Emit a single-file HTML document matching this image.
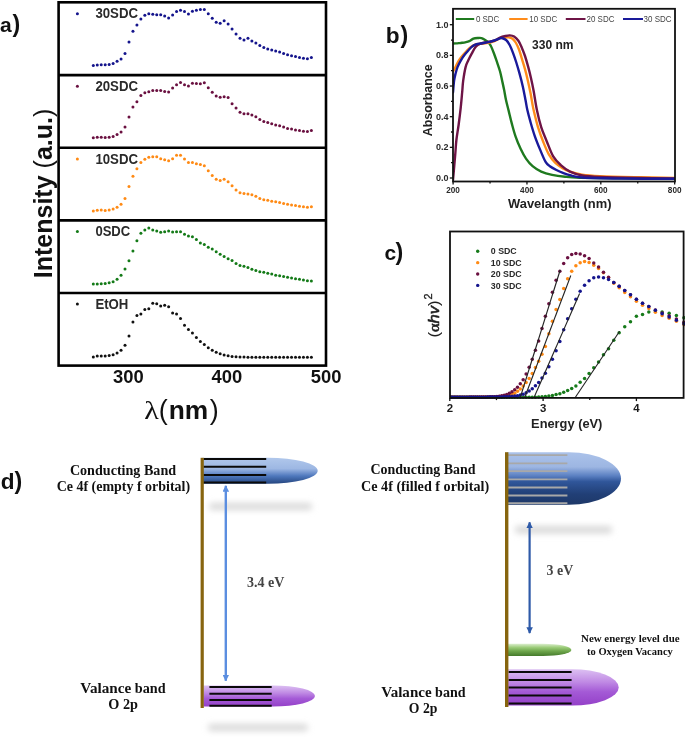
<!DOCTYPE html>
<html><head><meta charset="utf-8"><title>Figure</title>
<style>
html,body{margin:0;padding:0;background:#fff;}
body{width:685px;height:737px;overflow:hidden;font-family:"Liberation Sans", sans-serif;}
svg{display:block;will-change:transform;}
</style></head>
<body>
<svg width="685" height="737" viewBox="0 0 685 737">
<rect width="685" height="737" fill="#fff"/>
<g stroke="#000" stroke-width="2.6" fill="none">
<rect x="58.6" y="2.3" width="267.4" height="363.3"/>
<line x1="58.6" y1="75.1" x2="326" y2="75.1"/>
<line x1="58.6" y1="147.8" x2="326" y2="147.8"/>
<line x1="58.6" y1="220.4" x2="326" y2="220.4"/>
<line x1="58.6" y1="293" x2="326" y2="293"/>
</g>
<g fill="#14148c">
<circle cx="93.3" cy="65.4" r="1.5"/>
<circle cx="97.27" cy="65" r="1.5"/>
<circle cx="101.23" cy="64.8" r="1.5"/>
<circle cx="105.19" cy="64.8" r="1.5"/>
<circle cx="109.16" cy="64.4" r="1.5"/>
<circle cx="113.12" cy="63.4" r="1.5"/>
<circle cx="117.09" cy="61.3" r="1.5"/>
<circle cx="121.05" cy="58.9" r="1.5"/>
<circle cx="125.02" cy="53.5" r="1.5"/>
<circle cx="128.99" cy="42.1" r="1.5"/>
<circle cx="132.95" cy="31.3" r="1.5"/>
<circle cx="136.91" cy="24.9" r="1.5"/>
<circle cx="140.88" cy="19" r="1.5"/>
<circle cx="144.84" cy="15.3" r="1.5"/>
<circle cx="148.81" cy="13.7" r="1.5"/>
<circle cx="152.77" cy="14.3" r="1.5"/>
<circle cx="156.74" cy="14.7" r="1.5"/>
<circle cx="160.7" cy="14.7" r="1.5"/>
<circle cx="164.67" cy="15.9" r="1.5"/>
<circle cx="168.63" cy="18" r="1.5"/>
<circle cx="172.6" cy="15.1" r="1.5"/>
<circle cx="176.56" cy="11.6" r="1.5"/>
<circle cx="180.53" cy="10.2" r="1.5"/>
<circle cx="184.5" cy="11.6" r="1.5"/>
<circle cx="188.46" cy="13.9" r="1.5"/>
<circle cx="192.43" cy="11.2" r="1.5"/>
<circle cx="196.39" cy="10.2" r="1.5"/>
<circle cx="200.35" cy="9.6" r="1.5"/>
<circle cx="204.32" cy="9.4" r="1.5"/>
<circle cx="208.28" cy="13.7" r="1.5"/>
<circle cx="212.25" cy="18.2" r="1.5"/>
<circle cx="216.21" cy="22.3" r="1.5"/>
<circle cx="220.18" cy="23.3" r="1.5"/>
<circle cx="224.14" cy="20.8" r="1.5"/>
<circle cx="228.11" cy="23.9" r="1.5"/>
<circle cx="232.07" cy="29" r="1.5"/>
<circle cx="236.04" cy="34.1" r="1.5"/>
<circle cx="240" cy="38.2" r="1.5"/>
<circle cx="243.97" cy="39.9" r="1.5"/>
<circle cx="247.94" cy="38.2" r="1.5"/>
<circle cx="251.9" cy="40.9" r="1.5"/>
<circle cx="255.87" cy="42.9" r="1.5"/>
<circle cx="259.83" cy="45.4" r="1.5"/>
<circle cx="263.8" cy="47.4" r="1.5"/>
<circle cx="267.76" cy="49" r="1.5"/>
<circle cx="271.72" cy="49.9" r="1.5"/>
<circle cx="275.69" cy="50.9" r="1.5"/>
<circle cx="279.65" cy="52.1" r="1.5"/>
<circle cx="283.62" cy="53.5" r="1.5"/>
<circle cx="287.58" cy="54.8" r="1.5"/>
<circle cx="291.55" cy="55.8" r="1.5"/>
<circle cx="295.51" cy="56.6" r="1.5"/>
<circle cx="299.48" cy="57.4" r="1.5"/>
<circle cx="303.44" cy="58.2" r="1.5"/>
<circle cx="307.41" cy="58.7" r="1.5"/>
<circle cx="311.38" cy="57.6" r="1.5"/>
<circle cx="77.4" cy="13.7" r="1.5"/>
</g>
<text x="95.4" y="18.4" font-size="14" font-weight="bold" font-family='"Liberation Sans", sans-serif' fill="#2a2a2a" textLength="42.6" lengthAdjust="spacingAndGlyphs" >30SDC</text>
<g fill="#6a1040">
<circle cx="93.3" cy="137.8" r="1.5"/>
<circle cx="97.27" cy="137.3" r="1.5"/>
<circle cx="101.23" cy="137.3" r="1.5"/>
<circle cx="105.19" cy="137.5" r="1.5"/>
<circle cx="109.16" cy="137.3" r="1.5"/>
<circle cx="113.12" cy="136.5" r="1.5"/>
<circle cx="117.09" cy="134.5" r="1.5"/>
<circle cx="121.05" cy="132" r="1.5"/>
<circle cx="125.02" cy="127.1" r="1.5"/>
<circle cx="128.99" cy="117.1" r="1.5"/>
<circle cx="132.95" cy="107.1" r="1.5"/>
<circle cx="136.91" cy="101.8" r="1.5"/>
<circle cx="140.88" cy="95.5" r="1.5"/>
<circle cx="144.84" cy="92.8" r="1.5"/>
<circle cx="148.81" cy="91.8" r="1.5"/>
<circle cx="152.77" cy="90.4" r="1.5"/>
<circle cx="156.74" cy="90.4" r="1.5"/>
<circle cx="160.7" cy="90.6" r="1.5"/>
<circle cx="164.67" cy="91.4" r="1.5"/>
<circle cx="168.63" cy="92" r="1.5"/>
<circle cx="172.6" cy="87.9" r="1.5"/>
<circle cx="176.56" cy="84.7" r="1.5"/>
<circle cx="180.53" cy="82.6" r="1.5"/>
<circle cx="184.5" cy="84.7" r="1.5"/>
<circle cx="188.46" cy="85.9" r="1.5"/>
<circle cx="192.43" cy="83.3" r="1.5"/>
<circle cx="196.39" cy="83.4" r="1.5"/>
<circle cx="200.35" cy="83.8" r="1.5"/>
<circle cx="204.32" cy="82.8" r="1.5"/>
<circle cx="208.28" cy="87.7" r="1.5"/>
<circle cx="212.25" cy="92.2" r="1.5"/>
<circle cx="216.21" cy="96.1" r="1.5"/>
<circle cx="220.18" cy="97.3" r="1.5"/>
<circle cx="224.14" cy="96.7" r="1.5"/>
<circle cx="228.11" cy="97.5" r="1.5"/>
<circle cx="232.07" cy="103.7" r="1.5"/>
<circle cx="236.04" cy="108.1" r="1.5"/>
<circle cx="240" cy="112.2" r="1.5"/>
<circle cx="243.97" cy="113.7" r="1.5"/>
<circle cx="247.94" cy="113.7" r="1.5"/>
<circle cx="251.9" cy="115.1" r="1.5"/>
<circle cx="255.87" cy="116.7" r="1.5"/>
<circle cx="259.83" cy="119.6" r="1.5"/>
<circle cx="263.8" cy="121.4" r="1.5"/>
<circle cx="267.76" cy="122.4" r="1.5"/>
<circle cx="271.72" cy="123.7" r="1.5"/>
<circle cx="275.69" cy="124.9" r="1.5"/>
<circle cx="279.65" cy="125.7" r="1.5"/>
<circle cx="283.62" cy="126.9" r="1.5"/>
<circle cx="287.58" cy="128.4" r="1.5"/>
<circle cx="291.55" cy="129" r="1.5"/>
<circle cx="295.51" cy="130" r="1.5"/>
<circle cx="299.48" cy="130.6" r="1.5"/>
<circle cx="303.44" cy="131.2" r="1.5"/>
<circle cx="307.41" cy="131.6" r="1.5"/>
<circle cx="311.38" cy="130.6" r="1.5"/>
<circle cx="77.4" cy="86.3" r="1.5"/>
</g>
<text x="95.4" y="91" font-size="14" font-weight="bold" font-family='"Liberation Sans", sans-serif' fill="#2a2a2a" textLength="42.6" lengthAdjust="spacingAndGlyphs" >20SDC</text>
<g fill="#ff8a14">
<circle cx="93.3" cy="211" r="1.5"/>
<circle cx="97.27" cy="210.3" r="1.5"/>
<circle cx="101.23" cy="210.1" r="1.5"/>
<circle cx="105.19" cy="210.6" r="1.5"/>
<circle cx="109.16" cy="210.1" r="1.5"/>
<circle cx="113.12" cy="209.1" r="1.5"/>
<circle cx="117.09" cy="207.3" r="1.5"/>
<circle cx="121.05" cy="204.2" r="1.5"/>
<circle cx="125.02" cy="198.5" r="1.5"/>
<circle cx="128.99" cy="186.5" r="1.5"/>
<circle cx="132.95" cy="176.2" r="1.5"/>
<circle cx="136.91" cy="168.7" r="1.5"/>
<circle cx="140.88" cy="162.4" r="1.5"/>
<circle cx="144.84" cy="159.3" r="1.5"/>
<circle cx="148.81" cy="157.3" r="1.5"/>
<circle cx="152.77" cy="156.8" r="1.5"/>
<circle cx="156.74" cy="156.8" r="1.5"/>
<circle cx="160.7" cy="158.7" r="1.5"/>
<circle cx="164.67" cy="159.7" r="1.5"/>
<circle cx="168.63" cy="160.7" r="1.5"/>
<circle cx="172.6" cy="158.7" r="1.5"/>
<circle cx="176.56" cy="155.2" r="1.5"/>
<circle cx="180.53" cy="155.2" r="1.5"/>
<circle cx="184.5" cy="158.9" r="1.5"/>
<circle cx="188.46" cy="162.4" r="1.5"/>
<circle cx="192.43" cy="162.6" r="1.5"/>
<circle cx="196.39" cy="163.7" r="1.5"/>
<circle cx="200.35" cy="164.4" r="1.5"/>
<circle cx="204.32" cy="165.8" r="1.5"/>
<circle cx="208.28" cy="170.7" r="1.5"/>
<circle cx="212.25" cy="175.4" r="1.5"/>
<circle cx="216.21" cy="179.3" r="1.5"/>
<circle cx="220.18" cy="180.5" r="1.5"/>
<circle cx="224.14" cy="179.3" r="1.5"/>
<circle cx="228.11" cy="181.8" r="1.5"/>
<circle cx="232.07" cy="185.8" r="1.5"/>
<circle cx="236.04" cy="189.9" r="1.5"/>
<circle cx="240" cy="192.8" r="1.5"/>
<circle cx="243.97" cy="193.6" r="1.5"/>
<circle cx="247.94" cy="194" r="1.5"/>
<circle cx="251.9" cy="194.8" r="1.5"/>
<circle cx="255.87" cy="196.3" r="1.5"/>
<circle cx="259.83" cy="198.5" r="1.5"/>
<circle cx="263.8" cy="199.7" r="1.5"/>
<circle cx="267.76" cy="200.3" r="1.5"/>
<circle cx="271.72" cy="201.2" r="1.5"/>
<circle cx="275.69" cy="201.8" r="1.5"/>
<circle cx="279.65" cy="202.6" r="1.5"/>
<circle cx="283.62" cy="203.4" r="1.5"/>
<circle cx="287.58" cy="204.2" r="1.5"/>
<circle cx="291.55" cy="205" r="1.5"/>
<circle cx="295.51" cy="205.6" r="1.5"/>
<circle cx="299.48" cy="206.3" r="1.5"/>
<circle cx="303.44" cy="206.7" r="1.5"/>
<circle cx="307.41" cy="207.3" r="1.5"/>
<circle cx="311.38" cy="206.7" r="1.5"/>
<circle cx="77.4" cy="158.9" r="1.5"/>
</g>
<text x="95.4" y="163.5" font-size="14" font-weight="bold" font-family='"Liberation Sans", sans-serif' fill="#2a2a2a" textLength="42.6" lengthAdjust="spacingAndGlyphs" >10SDC</text>
<g fill="#137a17">
<circle cx="93.3" cy="284" r="1.5"/>
<circle cx="97.27" cy="284" r="1.5"/>
<circle cx="101.23" cy="283.8" r="1.5"/>
<circle cx="105.19" cy="283.6" r="1.5"/>
<circle cx="109.16" cy="282.8" r="1.5"/>
<circle cx="113.12" cy="281.7" r="1.5"/>
<circle cx="117.09" cy="279.3" r="1.5"/>
<circle cx="121.05" cy="275.2" r="1.5"/>
<circle cx="125.02" cy="268.9" r="1.5"/>
<circle cx="128.99" cy="260.7" r="1.5"/>
<circle cx="132.95" cy="251.1" r="1.5"/>
<circle cx="136.91" cy="240.7" r="1.5"/>
<circle cx="140.88" cy="233.3" r="1.5"/>
<circle cx="144.84" cy="229.9" r="1.5"/>
<circle cx="148.81" cy="228" r="1.5"/>
<circle cx="152.77" cy="230.1" r="1.5"/>
<circle cx="156.74" cy="230.9" r="1.5"/>
<circle cx="160.7" cy="232.3" r="1.5"/>
<circle cx="164.67" cy="231.7" r="1.5"/>
<circle cx="168.63" cy="231.1" r="1.5"/>
<circle cx="172.6" cy="231.9" r="1.5"/>
<circle cx="176.56" cy="231.7" r="1.5"/>
<circle cx="180.53" cy="231.7" r="1.5"/>
<circle cx="184.5" cy="234.2" r="1.5"/>
<circle cx="188.46" cy="236" r="1.5"/>
<circle cx="192.43" cy="236.7" r="1.5"/>
<circle cx="196.39" cy="239.5" r="1.5"/>
<circle cx="200.35" cy="242.9" r="1.5"/>
<circle cx="204.32" cy="244.4" r="1.5"/>
<circle cx="208.28" cy="247.2" r="1.5"/>
<circle cx="212.25" cy="249.1" r="1.5"/>
<circle cx="216.21" cy="251.7" r="1.5"/>
<circle cx="220.18" cy="254.2" r="1.5"/>
<circle cx="224.14" cy="256.4" r="1.5"/>
<circle cx="228.11" cy="258.7" r="1.5"/>
<circle cx="232.07" cy="260.5" r="1.5"/>
<circle cx="236.04" cy="263.4" r="1.5"/>
<circle cx="240" cy="265.6" r="1.5"/>
<circle cx="243.97" cy="266.2" r="1.5"/>
<circle cx="247.94" cy="267.4" r="1.5"/>
<circle cx="251.9" cy="269.3" r="1.5"/>
<circle cx="255.87" cy="270.5" r="1.5"/>
<circle cx="259.83" cy="271.7" r="1.5"/>
<circle cx="263.8" cy="272.3" r="1.5"/>
<circle cx="267.76" cy="273.2" r="1.5"/>
<circle cx="271.72" cy="274" r="1.5"/>
<circle cx="275.69" cy="275.2" r="1.5"/>
<circle cx="279.65" cy="275.8" r="1.5"/>
<circle cx="283.62" cy="276.6" r="1.5"/>
<circle cx="287.58" cy="277.2" r="1.5"/>
<circle cx="291.55" cy="278.1" r="1.5"/>
<circle cx="295.51" cy="278.7" r="1.5"/>
<circle cx="299.48" cy="279.3" r="1.5"/>
<circle cx="303.44" cy="279.9" r="1.5"/>
<circle cx="307.41" cy="280.7" r="1.5"/>
<circle cx="311.38" cy="281.1" r="1.5"/>
<circle cx="77.4" cy="231.5" r="1.5"/>
</g>
<text x="95.4" y="236.2" font-size="14" font-weight="bold" font-family='"Liberation Sans", sans-serif' fill="#2a2a2a" textLength="34.8" lengthAdjust="spacingAndGlyphs" >0SDC</text>
<g fill="#111111">
<circle cx="93.3" cy="357" r="1.5"/>
<circle cx="97.27" cy="356" r="1.5"/>
<circle cx="101.23" cy="356" r="1.5"/>
<circle cx="105.19" cy="356" r="1.5"/>
<circle cx="109.16" cy="355.6" r="1.5"/>
<circle cx="113.12" cy="354.8" r="1.5"/>
<circle cx="117.09" cy="352.9" r="1.5"/>
<circle cx="121.05" cy="350.3" r="1.5"/>
<circle cx="125.02" cy="345.2" r="1.5"/>
<circle cx="128.99" cy="336" r="1.5"/>
<circle cx="132.95" cy="322.1" r="1.5"/>
<circle cx="136.91" cy="315.5" r="1.5"/>
<circle cx="140.88" cy="313.9" r="1.5"/>
<circle cx="144.84" cy="309.4" r="1.5"/>
<circle cx="148.81" cy="308.8" r="1.5"/>
<circle cx="152.77" cy="303.3" r="1.5"/>
<circle cx="156.74" cy="303.7" r="1.5"/>
<circle cx="160.7" cy="306" r="1.5"/>
<circle cx="164.67" cy="305.3" r="1.5"/>
<circle cx="168.63" cy="306.8" r="1.5"/>
<circle cx="172.6" cy="313.1" r="1.5"/>
<circle cx="176.56" cy="314.1" r="1.5"/>
<circle cx="180.53" cy="318.6" r="1.5"/>
<circle cx="184.5" cy="325.3" r="1.5"/>
<circle cx="188.46" cy="329.4" r="1.5"/>
<circle cx="192.43" cy="333" r="1.5"/>
<circle cx="196.39" cy="337.4" r="1.5"/>
<circle cx="200.35" cy="341.5" r="1.5"/>
<circle cx="204.32" cy="344.5" r="1.5"/>
<circle cx="208.28" cy="347.8" r="1.5"/>
<circle cx="212.25" cy="350.3" r="1.5"/>
<circle cx="216.21" cy="352.3" r="1.5"/>
<circle cx="220.18" cy="353.7" r="1.5"/>
<circle cx="224.14" cy="355" r="1.5"/>
<circle cx="228.11" cy="355.8" r="1.5"/>
<circle cx="232.07" cy="356.4" r="1.5"/>
<circle cx="236.04" cy="356.8" r="1.5"/>
<circle cx="240" cy="357" r="1.5"/>
<circle cx="243.97" cy="357.1" r="1.5"/>
<circle cx="247.94" cy="357.2" r="1.5"/>
<circle cx="251.9" cy="357.3" r="1.5"/>
<circle cx="255.87" cy="357.3" r="1.5"/>
<circle cx="259.83" cy="357.3" r="1.5"/>
<circle cx="263.8" cy="357.3" r="1.5"/>
<circle cx="267.76" cy="357.3" r="1.5"/>
<circle cx="271.72" cy="357.3" r="1.5"/>
<circle cx="275.69" cy="357.3" r="1.5"/>
<circle cx="279.65" cy="357.3" r="1.5"/>
<circle cx="283.62" cy="357.3" r="1.5"/>
<circle cx="287.58" cy="357.3" r="1.5"/>
<circle cx="291.55" cy="357.3" r="1.5"/>
<circle cx="295.51" cy="357.3" r="1.5"/>
<circle cx="299.48" cy="357.3" r="1.5"/>
<circle cx="303.44" cy="357.3" r="1.5"/>
<circle cx="307.41" cy="357.3" r="1.5"/>
<circle cx="311.38" cy="357.3" r="1.5"/>
<circle cx="77.4" cy="303.9" r="1.5"/>
</g>
<text x="95.4" y="308.7" font-size="14" font-weight="bold" font-family='"Liberation Sans", sans-serif' fill="#2a2a2a" textLength="33" lengthAdjust="spacingAndGlyphs" >EtOH</text>
<text x="128.3" y="382.8" font-size="18.4" font-weight="bold" font-family='"Liberation Sans", sans-serif' fill="#111" text-anchor="middle" >300</text>
<text x="226.9" y="382.8" font-size="18.4" font-weight="bold" font-family='"Liberation Sans", sans-serif' fill="#111" text-anchor="middle" >400</text>
<text x="326.2" y="382.8" font-size="18.4" font-weight="bold" font-family='"Liberation Sans", sans-serif' fill="#111" text-anchor="middle" >500</text>
<text x="144.2" y="418.6" font-size="26" font-weight="normal" font-family='"Liberation Serif", serif' fill="#111" textLength="14.6" lengthAdjust="spacingAndGlyphs" >&#955;</text>
<text x="158.8" y="418.6" font-size="27" font-weight="normal" font-family='"Liberation Sans", sans-serif' fill="#111" >(</text>
<text x="168.7" y="418.6" font-size="25" font-weight="bold" font-family='"Liberation Sans", sans-serif' fill="#111" textLength="39.5" lengthAdjust="spacingAndGlyphs" >nm</text>
<text x="209.8" y="418.6" font-size="27" font-weight="normal" font-family='"Liberation Sans", sans-serif' fill="#111" >)</text>
<text x="0" y="0" font-size="25" font-weight="bold" font-family='"Liberation Sans", sans-serif' fill="#111" textLength="169.5" lengthAdjust="spacingAndGlyphs" transform="translate(52.2,278.2) rotate(-90)" >Intensity <tspan font-weight="normal">(</tspan>a.u.<tspan font-weight="normal">)</tspan></text>
<text x="0.1" y="31.9" font-size="21" font-weight="bold" font-family='"Liberation Sans", sans-serif' fill="#111" >a</text>
<text x="12.4" y="32.2" font-size="23.2" font-weight="bold" font-family='"Liberation Sans", sans-serif' fill="#111" >)</text>
<defs><clipPath id="cb"><rect x="453" y="8.8" width="222" height="172.7"/></clipPath></defs>
<g clip-path="url(#cb)" fill="none" stroke-width="2.4" stroke-linejoin="round" stroke-linecap="round">
<path d="M452,43.6 C452.67,43.57 454.78,43.48 456,43.4 C457.22,43.32 458.3,43.2 459.3,43.1 C460.3,43 461.02,42.93 462,42.8 C462.98,42.67 463.98,42.57 465.2,42.3 C466.42,42.03 467.93,41.8 469.3,41.2 C470.67,40.6 471.95,39.23 473.4,38.7 C474.85,38.17 476.65,38.1 478,38 C479.35,37.9 480.33,37.77 481.5,38.1 C482.67,38.43 483.83,39.27 485,40 C486.17,40.73 487.52,41.5 488.5,42.5 C489.48,43.5 490.02,44.25 490.9,46 C491.78,47.75 492.83,50.47 493.8,53 C494.77,55.53 495.67,58.17 496.7,61.2 C497.73,64.23 499.08,67.9 500,71.2 C500.92,74.5 501.48,77.73 502.2,81 C502.92,84.27 503.67,87.63 504.3,90.8 C504.93,93.97 505.27,96.65 506,100 C506.73,103.35 507.72,106.92 508.7,110.9 C509.68,114.88 510.73,119.57 511.9,123.9 C513.07,128.23 514.25,132.75 515.7,136.9 C517.15,141.05 518.88,145.18 520.6,148.8 C522.32,152.42 524,155.7 526,158.6 C528,161.5 530.07,164.03 532.6,166.2 C535.13,168.37 537.95,170.15 541.2,171.6 C544.45,173.05 548.12,174.03 552.1,174.9 C556.08,175.77 560.45,176.33 565.1,176.8 C569.75,177.27 570.85,177.45 580,177.7 C589.15,177.95 603.83,178.15 620,178.3 C636.17,178.45 667.5,178.55 677,178.6" stroke="#1f7a1f"/>
<path d="M453,71.5 C453.5,70.58 455.02,67.87 456,66 C456.98,64.13 457.52,62.37 458.9,60.3 C460.28,58.23 462.45,55.72 464.3,53.6 C466.15,51.48 468.1,49.12 470,47.6 C471.9,46.08 473.97,45.12 475.7,44.5 C477.43,43.88 478.85,44.1 480.4,43.9 C481.95,43.7 483.45,43.52 485,43.3 C486.55,43.08 488.13,42.95 489.7,42.6 C491.27,42.25 492.68,41.95 494.4,41.2 C496.12,40.45 498.35,38.7 500,38.1 C501.65,37.5 502.85,37.72 504.3,37.6 C505.75,37.48 507.33,37.22 508.7,37.4 C510.07,37.58 511.33,37.85 512.5,38.7 C513.67,39.55 514.62,40.7 515.7,42.5 C516.78,44.3 518,46.88 519,49.5 C520,52.12 520.7,54.93 521.7,58.2 C522.7,61.47 524,65.48 525,69.1 C526,72.72 526.77,75.83 527.7,79.9 C528.63,83.97 529.78,89.32 530.6,93.5 C531.42,97.68 532,101.83 532.6,105 C533.2,108.17 533.3,108.82 534.2,112.5 C535.1,116.18 536.47,122.13 538,127.1 C539.53,132.07 541.6,137.77 543.4,142.3 C545.2,146.83 546.8,150.87 548.8,154.3 C550.8,157.73 553.05,160.55 555.4,162.9 C557.75,165.25 560.47,166.95 562.9,168.4 C565.33,169.85 566.82,170.57 570,171.6 C573.18,172.63 577,173.85 582,174.6 C587,175.35 590.33,175.67 600,176.1 C609.67,176.53 627.17,176.9 640,177.2 C652.83,177.5 670.83,177.78 677,177.9" stroke="#ff8c1a"/>
<path d="M453,180 C453.37,175.83 454.63,161.67 455.2,155 C455.77,148.33 455.83,145 456.4,140 C456.97,135 457.88,130.37 458.6,125 C459.32,119.63 460.1,113.3 460.7,107.8 C461.3,102.3 461.78,96.52 462.2,92 C462.62,87.48 462.63,84.85 463.2,80.7 C463.77,76.55 464.75,70.5 465.6,67.1 C466.45,63.7 467.28,62.55 468.3,60.3 C469.32,58.05 470.45,55.85 471.7,53.6 C472.95,51.35 474.35,48.45 475.8,46.8 C477.25,45.15 478.87,44.42 480.4,43.7 C481.93,42.98 483.25,42.88 485,42.5 C486.75,42.12 488.95,41.88 490.9,41.4 C492.85,40.92 495.18,40.23 496.7,39.6 C498.22,38.97 498.55,38.2 500,37.6 C501.45,37 503.77,36.37 505.4,36 C507.03,35.63 508.35,35.32 509.8,35.4 C511.25,35.48 512.67,35.6 514.1,36.5 C515.53,37.4 517.13,38.98 518.4,40.8 C519.67,42.62 520.6,44.87 521.7,47.4 C522.8,49.93 523.92,52.75 525,56 C526.08,59.25 527.22,63.28 528.2,66.9 C529.18,70.52 530,73.72 530.9,77.7 C531.8,81.68 532.6,85.42 533.6,90.8 C534.6,96.18 535.63,103.95 536.9,110 C538.17,116.05 539.57,121.9 541.2,127.1 C542.83,132.3 544.7,136.32 546.7,141.2 C548.7,146.08 550.85,152.42 553.2,156.4 C555.55,160.38 558,162.57 560.8,165.1 C563.6,167.63 566.42,169.87 570,171.6 C573.58,173.33 577.3,174.6 582.3,175.5 C587.3,176.4 590.38,176.58 600,177 C609.62,177.42 627.17,177.77 640,178 C652.83,178.23 670.83,178.33 677,178.4" stroke="#6e1446"/>
<path d="M453,92.5 C453.18,90.53 453.68,83.8 454.1,80.7 C454.52,77.6 454.93,76.17 455.5,73.9 C456.07,71.63 456.6,69.37 457.5,67.1 C458.4,64.83 459.55,62.55 460.9,60.3 C462.25,58.05 463.8,55.85 465.6,53.6 C467.4,51.35 469.88,48.38 471.7,46.8 C473.52,45.22 475.05,44.65 476.5,44.1 C477.95,43.55 478.98,43.72 480.4,43.5 C481.82,43.28 483.45,43.07 485,42.8 C486.55,42.53 488.13,42.28 489.7,41.9 C491.27,41.52 492.68,41.1 494.4,40.5 C496.12,39.9 498.52,38.63 500,38.3 C501.48,37.97 502.22,38.17 503.3,38.5 C504.38,38.83 505.42,39.18 506.5,40.3 C507.58,41.42 508.72,43.12 509.8,45.2 C510.88,47.28 511.92,49.92 513,52.8 C514.08,55.68 515.22,59.07 516.3,62.5 C517.38,65.93 518.42,69.42 519.5,73.4 C520.58,77.38 521.8,81.97 522.8,86.4 C523.8,90.83 524.75,96.1 525.5,100 C526.25,103.9 526.48,106.18 527.3,109.8 C528.12,113.42 529.17,117.37 530.4,121.7 C531.63,126.03 533.07,131.1 534.7,135.8 C536.33,140.5 538.38,145.55 540.2,149.9 C542.02,154.25 543.98,159.18 545.6,161.9 C547.22,164.62 548.1,164.85 549.9,166.2 C551.7,167.55 554.23,168.88 556.4,170 C558.57,171.12 560.63,172.03 562.9,172.9 C565.17,173.77 566.77,174.43 570,175.2 C573.23,175.97 573.97,176.95 582.3,177.5 C590.63,178.05 604.22,178.28 620,178.5 C635.78,178.72 667.5,178.75 677,178.8" stroke="#1a1a9a"/>
</g>
<rect x="453" y="8.8" width="222" height="172.7" fill="none" stroke="#111" stroke-width="1.8"/>
<g stroke="#111" stroke-width="1.3">
<line x1="449.8" y1="178" x2="453" y2="178"/>
<line x1="451" y1="162.67" x2="453" y2="162.67"/>
<line x1="449.8" y1="147.34" x2="453" y2="147.34"/>
<line x1="451" y1="132.01" x2="453" y2="132.01"/>
<line x1="449.8" y1="116.68" x2="453" y2="116.68"/>
<line x1="451" y1="101.35" x2="453" y2="101.35"/>
<line x1="449.8" y1="86.02" x2="453" y2="86.02"/>
<line x1="451" y1="70.69" x2="453" y2="70.69"/>
<line x1="449.8" y1="55.36" x2="453" y2="55.36"/>
<line x1="451" y1="40.03" x2="453" y2="40.03"/>
<line x1="449.8" y1="24.7" x2="453" y2="24.7"/>
<line x1="453.1" y1="181.5" x2="453.1" y2="184.5"/>
<line x1="490.03" y1="181.5" x2="490.03" y2="183.5"/>
<line x1="526.96" y1="181.5" x2="526.96" y2="184.5"/>
<line x1="563.89" y1="181.5" x2="563.89" y2="183.5"/>
<line x1="600.82" y1="181.5" x2="600.82" y2="184.5"/>
<line x1="637.75" y1="181.5" x2="637.75" y2="183.5"/>
<line x1="674.68" y1="181.5" x2="674.68" y2="184.5"/>
</g>
<text x="448.6" y="27.7" font-size="9" font-weight="bold" font-family='"Liberation Sans", sans-serif' fill="#2a2a2a" text-anchor="end" >1.0</text>
<text x="448.6" y="58.36" font-size="9" font-weight="bold" font-family='"Liberation Sans", sans-serif' fill="#2a2a2a" text-anchor="end" >0.8</text>
<text x="448.6" y="89.02" font-size="9" font-weight="bold" font-family='"Liberation Sans", sans-serif' fill="#2a2a2a" text-anchor="end" >0.6</text>
<text x="448.6" y="119.68" font-size="9" font-weight="bold" font-family='"Liberation Sans", sans-serif' fill="#2a2a2a" text-anchor="end" >0.4</text>
<text x="448.6" y="150.34" font-size="9" font-weight="bold" font-family='"Liberation Sans", sans-serif' fill="#2a2a2a" text-anchor="end" >0.2</text>
<text x="448.6" y="181" font-size="9" font-weight="bold" font-family='"Liberation Sans", sans-serif' fill="#2a2a2a" text-anchor="end" >0.0</text>
<text x="453.1" y="192.6" font-size="8.2" font-weight="bold" font-family='"Liberation Sans", sans-serif' fill="#2a2a2a" text-anchor="middle" >200</text>
<text x="526.96" y="192.6" font-size="8.2" font-weight="bold" font-family='"Liberation Sans", sans-serif' fill="#2a2a2a" text-anchor="middle" >400</text>
<text x="600.82" y="192.6" font-size="8.2" font-weight="bold" font-family='"Liberation Sans", sans-serif' fill="#2a2a2a" text-anchor="middle" >600</text>
<text x="674.68" y="192.6" font-size="8.2" font-weight="bold" font-family='"Liberation Sans", sans-serif' fill="#2a2a2a" text-anchor="middle" >800</text>
<text x="0" y="0" font-size="12.6" font-weight="bold" font-family='"Liberation Sans", sans-serif' fill="#222" textLength="72" lengthAdjust="spacingAndGlyphs" transform="translate(432.2,136.3) rotate(-90)" >Absorbance</text>
<text x="508" y="207.5" font-size="12.7" font-weight="bold" font-family='"Liberation Sans", sans-serif' fill="#222" textLength="103.5" lengthAdjust="spacingAndGlyphs" >Wavelangth (nm)</text>
<text x="532" y="48.5" font-size="12" font-weight="bold" font-family='"Liberation Sans", sans-serif' fill="#222" textLength="41.5" lengthAdjust="spacingAndGlyphs" >330 nm</text>
<line x1="455.8" y1="19" x2="474.2" y2="19" stroke="#1f7a1f" stroke-width="2"/>
<text x="475.9" y="22.2" font-size="8.3" font-weight="normal" font-family='"Liberation Sans", sans-serif' fill="#444" textLength="23.4" lengthAdjust="spacingAndGlyphs" >0 SDC</text>
<line x1="509.2" y1="19" x2="527.6" y2="19" stroke="#ff8c1a" stroke-width="2"/>
<text x="529.3" y="22.2" font-size="8.3" font-weight="normal" font-family='"Liberation Sans", sans-serif' fill="#444" textLength="27.9" lengthAdjust="spacingAndGlyphs" >10 SDC</text>
<line x1="565.8" y1="19" x2="585.5" y2="19" stroke="#6e1446" stroke-width="2"/>
<text x="586.5" y="22.2" font-size="8.3" font-weight="normal" font-family='"Liberation Sans", sans-serif' fill="#444" textLength="27.9" lengthAdjust="spacingAndGlyphs" >20 SDC</text>
<line x1="623" y1="19" x2="643" y2="19" stroke="#1a1a9a" stroke-width="2"/>
<text x="643.6" y="22.2" font-size="8.3" font-weight="normal" font-family='"Liberation Sans", sans-serif' fill="#444" textLength="27.9" lengthAdjust="spacingAndGlyphs" >30 SDC</text>
<text x="385.7" y="43" font-size="22.6" font-weight="bold" font-family='"Liberation Sans", sans-serif' fill="#111" >b</text>
<text x="400.5" y="43.1" font-size="23.2" font-weight="bold" font-family='"Liberation Sans", sans-serif' fill="#111" >)</text>
<defs><clipPath id="cc"><rect x="450" y="231.5" width="235" height="168.4"/></clipPath></defs>
<g fill="#167a1a" clip-path="url(#cc)">
<circle cx="683.9" cy="317.77" r="1.75"/>
<circle cx="676.39" cy="315.47" r="1.75"/>
<circle cx="669.14" cy="313.26" r="1.75"/>
<circle cx="662.14" cy="311.92" r="1.75"/>
<circle cx="655.38" cy="311" r="1.75"/>
<circle cx="648.84" cy="311.9" r="1.75"/>
<circle cx="642.52" cy="314.39" r="1.75"/>
<circle cx="636.4" cy="316.22" r="1.75"/>
<circle cx="630.48" cy="321.69" r="1.75"/>
<circle cx="624.74" cy="326.75" r="1.75"/>
<circle cx="619.18" cy="332.7" r="1.75"/>
<circle cx="613.78" cy="340.23" r="1.75"/>
<circle cx="608.55" cy="348.85" r="1.75"/>
<circle cx="603.47" cy="354.84" r="1.75"/>
<circle cx="598.54" cy="361.88" r="1.75"/>
<circle cx="593.75" cy="367.81" r="1.75"/>
<circle cx="589.09" cy="373.44" r="1.75"/>
<circle cx="584.57" cy="378.43" r="1.75"/>
<circle cx="580.16" cy="382.33" r="1.75"/>
<circle cx="575.88" cy="385.98" r="1.75"/>
<circle cx="571.71" cy="388.47" r="1.75"/>
<circle cx="567.65" cy="390.52" r="1.75"/>
<circle cx="563.7" cy="392.26" r="1.75"/>
<circle cx="559.85" cy="393.66" r="1.75"/>
<circle cx="556.09" cy="394.48" r="1.75"/>
<circle cx="552.43" cy="395.38" r="1.75"/>
<circle cx="548.86" cy="396.04" r="1.75"/>
<circle cx="545.38" cy="396.49" r="1.75"/>
<circle cx="541.98" cy="396.86" r="1.75"/>
<circle cx="538.66" cy="397.06" r="1.75"/>
<circle cx="535.42" cy="397.15" r="1.75"/>
<circle cx="532.25" cy="397.18" r="1.75"/>
<circle cx="529.16" cy="397.19" r="1.75"/>
<circle cx="526.14" cy="397.2" r="1.75"/>
<circle cx="523.18" cy="397.21" r="1.75"/>
<circle cx="520.29" cy="397.21" r="1.75"/>
<circle cx="517.47" cy="397.22" r="1.75"/>
<circle cx="514.7" cy="397.23" r="1.75"/>
<circle cx="512" cy="397.23" r="1.75"/>
<circle cx="509.35" cy="397.24" r="1.75"/>
<circle cx="506.76" cy="397.24" r="1.75"/>
<circle cx="504.23" cy="397.25" r="1.75"/>
<circle cx="501.74" cy="397.25" r="1.75"/>
<circle cx="499.31" cy="397.26" r="1.75"/>
<circle cx="496.92" cy="397.26" r="1.75"/>
<circle cx="494.58" cy="397.26" r="1.75"/>
<circle cx="492.29" cy="397.26" r="1.75"/>
<circle cx="490.05" cy="397.27" r="1.75"/>
<circle cx="487.84" cy="397.27" r="1.75"/>
<circle cx="485.68" cy="397.27" r="1.75"/>
<circle cx="483.57" cy="397.27" r="1.75"/>
<circle cx="481.49" cy="397.27" r="1.75"/>
<circle cx="479.45" cy="397.27" r="1.75"/>
<circle cx="477.44" cy="397.28" r="1.75"/>
<circle cx="475.48" cy="397.28" r="1.75"/>
<circle cx="473.55" cy="397.28" r="1.75"/>
<circle cx="471.65" cy="397.28" r="1.75"/>
<circle cx="469.79" cy="397.28" r="1.75"/>
<circle cx="467.96" cy="397.28" r="1.75"/>
<circle cx="466.17" cy="397.28" r="1.75"/>
<circle cx="464.4" cy="397.28" r="1.75"/>
<circle cx="462.67" cy="397.29" r="1.75"/>
<circle cx="460.96" cy="397.29" r="1.75"/>
<circle cx="459.29" cy="397.29" r="1.75"/>
<circle cx="457.64" cy="397.29" r="1.75"/>
<circle cx="456.02" cy="397.29" r="1.75"/>
<circle cx="454.43" cy="397.29" r="1.75"/>
<circle cx="452.86" cy="397.3" r="1.75"/>
<circle cx="451.32" cy="397.3" r="1.75"/>
<circle cx="449.8" cy="397.3" r="1.75"/>
</g>
<g fill="#ff8a14" clip-path="url(#cc)">
<circle cx="683.9" cy="324.46" r="1.75"/>
<circle cx="676.39" cy="321.32" r="1.75"/>
<circle cx="669.14" cy="318.17" r="1.75"/>
<circle cx="662.14" cy="315.4" r="1.75"/>
<circle cx="655.38" cy="312.18" r="1.75"/>
<circle cx="648.84" cy="308.6" r="1.75"/>
<circle cx="642.52" cy="305.13" r="1.75"/>
<circle cx="636.4" cy="301.26" r="1.75"/>
<circle cx="630.48" cy="296.75" r="1.75"/>
<circle cx="624.74" cy="292.39" r="1.75"/>
<circle cx="619.18" cy="287.73" r="1.75"/>
<circle cx="613.78" cy="283.18" r="1.75"/>
<circle cx="608.55" cy="277.65" r="1.75"/>
<circle cx="603.47" cy="272.76" r="1.75"/>
<circle cx="598.54" cy="268.48" r="1.75"/>
<circle cx="593.75" cy="265.2" r="1.75"/>
<circle cx="589.09" cy="262.42" r="1.75"/>
<circle cx="584.57" cy="261.61" r="1.75"/>
<circle cx="580.16" cy="262.82" r="1.75"/>
<circle cx="575.88" cy="265.72" r="1.75"/>
<circle cx="571.71" cy="271.18" r="1.75"/>
<circle cx="567.65" cy="278.85" r="1.75"/>
<circle cx="563.7" cy="288.47" r="1.75"/>
<circle cx="559.85" cy="299.47" r="1.75"/>
<circle cx="556.09" cy="309.56" r="1.75"/>
<circle cx="552.43" cy="321.29" r="1.75"/>
<circle cx="548.86" cy="333.82" r="1.75"/>
<circle cx="545.38" cy="346.45" r="1.75"/>
<circle cx="541.98" cy="354.21" r="1.75"/>
<circle cx="538.66" cy="361.29" r="1.75"/>
<circle cx="535.42" cy="367.58" r="1.75"/>
<circle cx="532.25" cy="373.46" r="1.75"/>
<circle cx="529.16" cy="378.52" r="1.75"/>
<circle cx="526.14" cy="382.61" r="1.75"/>
<circle cx="523.18" cy="385.91" r="1.75"/>
<circle cx="520.29" cy="388.92" r="1.75"/>
<circle cx="517.47" cy="391.2" r="1.75"/>
<circle cx="514.7" cy="393.2" r="1.75"/>
<circle cx="512" cy="394.25" r="1.75"/>
<circle cx="509.35" cy="394.99" r="1.75"/>
<circle cx="506.76" cy="395.55" r="1.75"/>
<circle cx="504.23" cy="395.99" r="1.75"/>
<circle cx="501.74" cy="396.32" r="1.75"/>
<circle cx="499.31" cy="396.56" r="1.75"/>
<circle cx="496.92" cy="396.74" r="1.75"/>
<circle cx="494.58" cy="396.87" r="1.75"/>
<circle cx="492.29" cy="396.95" r="1.75"/>
<circle cx="490.05" cy="397" r="1.75"/>
<circle cx="487.84" cy="397.03" r="1.75"/>
<circle cx="485.68" cy="397.06" r="1.75"/>
<circle cx="483.57" cy="397.09" r="1.75"/>
<circle cx="481.49" cy="397.11" r="1.75"/>
<circle cx="479.45" cy="397.13" r="1.75"/>
<circle cx="477.44" cy="397.14" r="1.75"/>
<circle cx="475.48" cy="397.16" r="1.75"/>
<circle cx="473.55" cy="397.17" r="1.75"/>
<circle cx="471.65" cy="397.18" r="1.75"/>
<circle cx="469.79" cy="397.19" r="1.75"/>
<circle cx="467.96" cy="397.2" r="1.75"/>
<circle cx="466.17" cy="397.21" r="1.75"/>
<circle cx="464.4" cy="397.22" r="1.75"/>
<circle cx="462.67" cy="397.23" r="1.75"/>
<circle cx="460.96" cy="397.23" r="1.75"/>
<circle cx="459.29" cy="397.24" r="1.75"/>
<circle cx="457.64" cy="397.25" r="1.75"/>
<circle cx="456.02" cy="397.26" r="1.75"/>
<circle cx="454.43" cy="397.27" r="1.75"/>
<circle cx="452.86" cy="397.27" r="1.75"/>
<circle cx="451.32" cy="397.28" r="1.75"/>
<circle cx="449.8" cy="397.29" r="1.75"/>
</g>
<g fill="#6a1040" clip-path="url(#cc)">
<circle cx="683.9" cy="322.35" r="1.75"/>
<circle cx="676.39" cy="319.01" r="1.75"/>
<circle cx="669.14" cy="315.77" r="1.75"/>
<circle cx="662.14" cy="313.01" r="1.75"/>
<circle cx="655.38" cy="310" r="1.75"/>
<circle cx="648.84" cy="306.61" r="1.75"/>
<circle cx="642.52" cy="303.13" r="1.75"/>
<circle cx="636.4" cy="299.26" r="1.75"/>
<circle cx="630.48" cy="294.75" r="1.75"/>
<circle cx="624.74" cy="290.41" r="1.75"/>
<circle cx="619.18" cy="286.36" r="1.75"/>
<circle cx="613.78" cy="282.38" r="1.75"/>
<circle cx="608.55" cy="277.15" r="1.75"/>
<circle cx="603.47" cy="272.27" r="1.75"/>
<circle cx="598.54" cy="266.95" r="1.75"/>
<circle cx="593.75" cy="262.93" r="1.75"/>
<circle cx="589.09" cy="258.54" r="1.75"/>
<circle cx="584.57" cy="255.73" r="1.75"/>
<circle cx="580.16" cy="253.99" r="1.75"/>
<circle cx="575.88" cy="253.41" r="1.75"/>
<circle cx="571.71" cy="254.39" r="1.75"/>
<circle cx="567.65" cy="257.84" r="1.75"/>
<circle cx="563.7" cy="263.53" r="1.75"/>
<circle cx="559.85" cy="271.2" r="1.75"/>
<circle cx="556.09" cy="280.36" r="1.75"/>
<circle cx="552.43" cy="292.2" r="1.75"/>
<circle cx="548.86" cy="303.66" r="1.75"/>
<circle cx="545.38" cy="316.16" r="1.75"/>
<circle cx="541.98" cy="328.59" r="1.75"/>
<circle cx="538.66" cy="341.06" r="1.75"/>
<circle cx="535.42" cy="350.17" r="1.75"/>
<circle cx="532.25" cy="359.22" r="1.75"/>
<circle cx="529.16" cy="367.18" r="1.75"/>
<circle cx="526.14" cy="374.01" r="1.75"/>
<circle cx="523.18" cy="379.7" r="1.75"/>
<circle cx="520.29" cy="383.85" r="1.75"/>
<circle cx="517.47" cy="387.22" r="1.75"/>
<circle cx="514.7" cy="389.87" r="1.75"/>
<circle cx="512" cy="391.83" r="1.75"/>
<circle cx="509.35" cy="393.3" r="1.75"/>
<circle cx="506.76" cy="394.45" r="1.75"/>
<circle cx="504.23" cy="395.26" r="1.75"/>
<circle cx="501.74" cy="395.79" r="1.75"/>
<circle cx="499.31" cy="396.2" r="1.75"/>
<circle cx="496.92" cy="396.51" r="1.75"/>
<circle cx="494.58" cy="396.66" r="1.75"/>
<circle cx="492.29" cy="396.76" r="1.75"/>
<circle cx="490.05" cy="396.83" r="1.75"/>
<circle cx="487.84" cy="396.88" r="1.75"/>
<circle cx="485.68" cy="396.92" r="1.75"/>
<circle cx="483.57" cy="396.95" r="1.75"/>
<circle cx="481.49" cy="396.98" r="1.75"/>
<circle cx="479.45" cy="397.01" r="1.75"/>
<circle cx="477.44" cy="397.04" r="1.75"/>
<circle cx="475.48" cy="397.06" r="1.75"/>
<circle cx="473.55" cy="397.08" r="1.75"/>
<circle cx="471.65" cy="397.1" r="1.75"/>
<circle cx="469.79" cy="397.12" r="1.75"/>
<circle cx="467.96" cy="397.14" r="1.75"/>
<circle cx="466.17" cy="397.16" r="1.75"/>
<circle cx="464.4" cy="397.17" r="1.75"/>
<circle cx="462.67" cy="397.19" r="1.75"/>
<circle cx="460.96" cy="397.2" r="1.75"/>
<circle cx="459.29" cy="397.21" r="1.75"/>
<circle cx="457.64" cy="397.23" r="1.75"/>
<circle cx="456.02" cy="397.24" r="1.75"/>
<circle cx="454.43" cy="397.25" r="1.75"/>
<circle cx="452.86" cy="397.26" r="1.75"/>
<circle cx="451.32" cy="397.28" r="1.75"/>
<circle cx="449.8" cy="397.29" r="1.75"/>
</g>
<g fill="#14148c" clip-path="url(#cc)">
<circle cx="683.9" cy="323.75" r="1.75"/>
<circle cx="676.39" cy="320.31" r="1.75"/>
<circle cx="669.14" cy="316.94" r="1.75"/>
<circle cx="662.14" cy="313.67" r="1.75"/>
<circle cx="655.38" cy="310.17" r="1.75"/>
<circle cx="648.84" cy="306.6" r="1.75"/>
<circle cx="642.52" cy="303.13" r="1.75"/>
<circle cx="636.4" cy="299.26" r="1.75"/>
<circle cx="630.48" cy="294.75" r="1.75"/>
<circle cx="624.74" cy="290.41" r="1.75"/>
<circle cx="619.18" cy="286.36" r="1.75"/>
<circle cx="613.78" cy="282.39" r="1.75"/>
<circle cx="608.55" cy="279.52" r="1.75"/>
<circle cx="603.47" cy="277.74" r="1.75"/>
<circle cx="598.54" cy="277.1" r="1.75"/>
<circle cx="593.75" cy="277.65" r="1.75"/>
<circle cx="589.09" cy="280.67" r="1.75"/>
<circle cx="584.57" cy="285.16" r="1.75"/>
<circle cx="580.16" cy="291.26" r="1.75"/>
<circle cx="575.88" cy="299.34" r="1.75"/>
<circle cx="571.71" cy="308.8" r="1.75"/>
<circle cx="567.65" cy="318.84" r="1.75"/>
<circle cx="563.7" cy="329.81" r="1.75"/>
<circle cx="559.85" cy="341.59" r="1.75"/>
<circle cx="556.09" cy="350.8" r="1.75"/>
<circle cx="552.43" cy="359.32" r="1.75"/>
<circle cx="548.86" cy="366.78" r="1.75"/>
<circle cx="545.38" cy="373.19" r="1.75"/>
<circle cx="541.98" cy="378.03" r="1.75"/>
<circle cx="538.66" cy="382.42" r="1.75"/>
<circle cx="535.42" cy="385.7" r="1.75"/>
<circle cx="532.25" cy="388.72" r="1.75"/>
<circle cx="529.16" cy="390.98" r="1.75"/>
<circle cx="526.14" cy="392.82" r="1.75"/>
<circle cx="523.18" cy="394.14" r="1.75"/>
<circle cx="520.29" cy="395.1" r="1.75"/>
<circle cx="517.47" cy="395.78" r="1.75"/>
<circle cx="514.7" cy="396.12" r="1.75"/>
<circle cx="512" cy="396.35" r="1.75"/>
<circle cx="509.35" cy="396.55" r="1.75"/>
<circle cx="506.76" cy="396.72" r="1.75"/>
<circle cx="504.23" cy="396.86" r="1.75"/>
<circle cx="501.74" cy="396.96" r="1.75"/>
<circle cx="499.31" cy="397.01" r="1.75"/>
<circle cx="496.92" cy="397.04" r="1.75"/>
<circle cx="494.58" cy="397.06" r="1.75"/>
<circle cx="492.29" cy="397.09" r="1.75"/>
<circle cx="490.05" cy="397.11" r="1.75"/>
<circle cx="487.84" cy="397.12" r="1.75"/>
<circle cx="485.68" cy="397.14" r="1.75"/>
<circle cx="483.57" cy="397.15" r="1.75"/>
<circle cx="481.49" cy="397.16" r="1.75"/>
<circle cx="479.45" cy="397.17" r="1.75"/>
<circle cx="477.44" cy="397.18" r="1.75"/>
<circle cx="475.48" cy="397.19" r="1.75"/>
<circle cx="473.55" cy="397.2" r="1.75"/>
<circle cx="471.65" cy="397.21" r="1.75"/>
<circle cx="469.79" cy="397.21" r="1.75"/>
<circle cx="467.96" cy="397.22" r="1.75"/>
<circle cx="466.17" cy="397.23" r="1.75"/>
<circle cx="464.4" cy="397.23" r="1.75"/>
<circle cx="462.67" cy="397.24" r="1.75"/>
<circle cx="460.96" cy="397.25" r="1.75"/>
<circle cx="459.29" cy="397.25" r="1.75"/>
<circle cx="457.64" cy="397.26" r="1.75"/>
<circle cx="456.02" cy="397.26" r="1.75"/>
<circle cx="454.43" cy="397.27" r="1.75"/>
<circle cx="452.86" cy="397.28" r="1.75"/>
<circle cx="451.32" cy="397.29" r="1.75"/>
<circle cx="449.8" cy="397.3" r="1.75"/>
</g>
<g stroke="#222" stroke-width="1.1">
<line x1="520.1" y1="398" x2="560.2" y2="270"/>
<line x1="524.5" y1="398" x2="570.8" y2="275.5"/>
<line x1="533.8" y1="398" x2="579.6" y2="293.5"/>
<line x1="574.9" y1="398" x2="619.6" y2="331.2"/>
</g>
<rect x="450" y="231.5" width="233.6" height="166.4" fill="none" stroke="#111" stroke-width="1.8"/>
<g stroke="#111" stroke-width="1.3">
<line x1="449.8" y1="397.9" x2="449.8" y2="401.1"/>
<line x1="496.45" y1="397.9" x2="496.45" y2="400.1"/>
<line x1="543.1" y1="397.9" x2="543.1" y2="401.1"/>
<line x1="589.75" y1="397.9" x2="589.75" y2="400.1"/>
<line x1="636.4" y1="397.9" x2="636.4" y2="401.1"/>
</g>
<text x="449.8" y="412.2" font-size="11.4" font-weight="bold" font-family='"Liberation Sans", sans-serif' fill="#1a1a1a" text-anchor="middle" >2</text>
<text x="543.1" y="412.2" font-size="11.4" font-weight="bold" font-family='"Liberation Sans", sans-serif' fill="#1a1a1a" text-anchor="middle" >3</text>
<text x="636.4" y="412.2" font-size="11.4" font-weight="bold" font-family='"Liberation Sans", sans-serif' fill="#1a1a1a" text-anchor="middle" >4</text>
<text x="531.1" y="428.2" font-size="12.8" font-weight="bold" font-family='"Liberation Sans", sans-serif' fill="#222" textLength="71.3" lengthAdjust="spacingAndGlyphs" >Energy (eV)</text>
<text transform="translate(438.5,337.6) rotate(-90)" font-size="15.2" font-family='"Liberation Sans", sans-serif' fill="#1e1e1e" textLength="37.2" lengthAdjust="spacingAndGlyphs">(<tspan font-family='"Liberation Serif", serif' stroke="#1e1e1e" stroke-width="0.5">&#945;</tspan><tspan font-style="italic" stroke="#1e1e1e" stroke-width="0.55">hv</tspan>)</text>
<text transform="translate(431.7,299.6) rotate(-90)" font-size="10.8" font-family='"Liberation Sans", sans-serif' fill="#1e1e1e" stroke="#1e1e1e" stroke-width="0.35">2</text>
<circle cx="477.7" cy="251.3" r="1.7" fill="#167a1a"/>
<text x="490.8" y="254.4" font-size="8.8" font-weight="bold" font-family='"Liberation Sans", sans-serif' fill="#2a2a2a" >0 SDC</text>
<circle cx="477.7" cy="262.67" r="1.7" fill="#ff8a14"/>
<text x="490.8" y="265.77" font-size="8.8" font-weight="bold" font-family='"Liberation Sans", sans-serif' fill="#2a2a2a" >10 SDC</text>
<circle cx="477.7" cy="274.04" r="1.7" fill="#6a1040"/>
<text x="490.8" y="277.14" font-size="8.8" font-weight="bold" font-family='"Liberation Sans", sans-serif' fill="#2a2a2a" >20 SDC</text>
<circle cx="477.7" cy="285.41" r="1.7" fill="#14148c"/>
<text x="490.8" y="288.51" font-size="8.8" font-weight="bold" font-family='"Liberation Sans", sans-serif' fill="#2a2a2a" >30 SDC</text>
<text x="384.5" y="259.5" font-size="21" font-weight="bold" font-family='"Liberation Sans", sans-serif' fill="#111" >c</text>
<text x="395.5" y="260.1" font-size="23.2" font-weight="bold" font-family='"Liberation Sans", sans-serif' fill="#111" >)</text>
<text x="0.85" y="489.2" font-size="22.6" font-weight="bold" font-family='"Liberation Sans", sans-serif' fill="#111" >d</text>
<text x="14.6" y="489.4" font-size="23.2" font-weight="bold" font-family='"Liberation Sans", sans-serif' fill="#111" >)</text>
<defs>
<linearGradient id="gBlue1" x1="0" y1="0" x2="0" y2="1">
  <stop offset="0" stop-color="#b0c7eb"/><stop offset="0.42" stop-color="#9db7e3"/><stop offset="0.7" stop-color="#4f78bd"/><stop offset="1" stop-color="#24457f"/>
</linearGradient>
<linearGradient id="gBlue2" x1="0" y1="0" x2="0" y2="1">
  <stop offset="0" stop-color="#abc2ea"/><stop offset="0.28" stop-color="#9db6e2"/><stop offset="0.45" stop-color="#5b80c2"/><stop offset="0.56" stop-color="#30569a"/><stop offset="0.8" stop-color="#213f76"/><stop offset="1" stop-color="#1e3868"/>
</linearGradient>
<linearGradient id="gPur" x1="0" y1="0" x2="0" y2="1">
  <stop offset="0" stop-color="#dcc0f2"/><stop offset="0.35" stop-color="#c08ae4"/><stop offset="0.62" stop-color="#a45ad6"/><stop offset="1" stop-color="#9440c8"/>
</linearGradient>
<linearGradient id="gGrn" x1="0" y1="0" x2="0" y2="1">
  <stop offset="0" stop-color="#dbeecd"/><stop offset="0.3" stop-color="#9ccc7a"/><stop offset="0.6" stop-color="#6ea64c"/><stop offset="1" stop-color="#457a2c"/>
</linearGradient>
<filter id="blur" x="-20%" y="-150%" width="140%" height="400%"><feGaussianBlur stdDeviation="3.1"/></filter>
<marker id="ahL" viewBox="0 0 10 10" refX="9" refY="5" markerWidth="6.5" markerHeight="6.5" orient="auto-start-reverse" markerUnits="userSpaceOnUse">
  <path d="M0,0 L10,5 L0,10 z" fill="#5b8ee0"/></marker>
<marker id="ahR" viewBox="0 0 10 10" refX="9" refY="5" markerWidth="6.5" markerHeight="6.5" orient="auto-start-reverse" markerUnits="userSpaceOnUse">
  <path d="M0,0 L10,5 L0,10 z" fill="#2e5aa8"/></marker>
</defs>
<g fill="#d9d9d9" filter="url(#blur)">
<rect x="209" y="503" width="103" height="7" rx="3.5"/>
<rect x="208" y="724" width="100" height="7" rx="3.5"/>
<rect x="515" y="526" width="97" height="7.5" rx="3.5"/>
</g>
<path d="M202.5,457.8 H268 A49.7,12.95 0 0 1 268,483.7 H202.5 Z" fill="url(#gBlue1)"/>
<g stroke="#0a0a0a" stroke-width="2">
<line x1="203.5" y1="458.9" x2="266.2" y2="458.9"/>
<line x1="203.5" y1="466.8" x2="266.2" y2="466.8"/>
<line x1="203.5" y1="474.9" x2="266.2" y2="474.9"/>
<line x1="203.5" y1="482.5" x2="266.2" y2="482.5"/>
</g>
<path d="M203.5,685.5 H273 A42.1,10.55 0 0 1 273,706.6 H203.5 Z" fill="url(#gPur)"/>
<g stroke="#0a0a0a" stroke-width="2">
<line x1="209.4" y1="687.1" x2="271.7" y2="687.1"/>
<line x1="209.4" y1="693.7" x2="271.7" y2="693.7"/>
<line x1="209.4" y1="699.9" x2="271.7" y2="699.9"/>
<line x1="209.4" y1="705.8" x2="271.7" y2="705.8"/>
</g>
<line x1="202.2" y1="457.8" x2="202.2" y2="708" stroke="#87650f" stroke-width="3.2"/>
<line x1="225.8" y1="485.8" x2="225.8" y2="680.8" stroke="#5b8ee0" stroke-width="2.4" marker-start="url(#ahL)" marker-end="url(#ahL)"/>
<text x="123" y="475.3" font-size="14" font-weight="bold" font-family='"Liberation Serif", serif' fill="#111" text-anchor="middle" textLength="106.2" lengthAdjust="spacingAndGlyphs" >Conducting Band</text>
<text x="123.4" y="490.8" font-size="14" font-weight="bold" font-family='"Liberation Serif", serif' fill="#111" text-anchor="middle" textLength="133.5" lengthAdjust="spacingAndGlyphs" >Ce 4f (empty f orbital)</text>
<text x="247" y="587.4" font-size="14" font-weight="bold" font-family='"Liberation Serif", serif' fill="#444" textLength="37.4" lengthAdjust="spacingAndGlyphs" >3.4 eV</text>
<text x="123" y="692.5" font-family='"Liberation Serif", serif' font-weight="bold" fill="#111" text-anchor="middle" textLength="85.3" lengthAdjust="spacingAndGlyphs"><tspan font-size="15.2">Valance</tspan><tspan font-size="14.2"> band</tspan></text>
<text x="123.2" y="709.2" font-size="14" font-weight="bold" font-family='"Liberation Serif", serif' fill="#111" text-anchor="middle" textLength="29.7" lengthAdjust="spacingAndGlyphs" >O 2p</text>
<path d="M507,452.2 H569 A52,26.25 0 0 1 569,504.7 H507 Z" fill="url(#gBlue2)"/>
<g stroke="#a8a8a8" stroke-width="1.8">
<line x1="508" y1="455.2" x2="567.4" y2="455.2"/>
<line x1="508" y1="463.4" x2="567.4" y2="463.4"/>
<line x1="508" y1="471.2" x2="567.4" y2="471.2"/>
<line x1="508" y1="479.3" x2="567.4" y2="479.3"/>
<line x1="508" y1="487.5" x2="567.4" y2="487.5"/>
<line x1="508" y1="495.5" x2="567.4" y2="495.5"/>
<line x1="508" y1="503.2" x2="567.4" y2="503.2"/>
</g>
<path d="M507,643.8 H543 A28.4,6.1 0 0 1 543,656 H507 Z" fill="url(#gGrn)"/>
<path d="M507,669.2 H572 A46.8,18.2 0 0 1 572,705.6 H507 Z" fill="url(#gPur)"/>
<g stroke="#0a0a0a" stroke-width="2">
<line x1="508.6" y1="671.9" x2="571.6" y2="671.9"/>
<line x1="508.6" y1="680" x2="571.6" y2="680"/>
<line x1="508.6" y1="687.6" x2="571.6" y2="687.6"/>
<line x1="508.6" y1="695.6" x2="571.6" y2="695.6"/>
<line x1="508.6" y1="703.5" x2="571.6" y2="703.5"/>
</g>
<line x1="506.7" y1="452.2" x2="506.7" y2="707" stroke="#87650f" stroke-width="3.4"/>
<line x1="529.6" y1="522.3" x2="529.6" y2="633.1" stroke="#2e5aa8" stroke-width="2.2" marker-start="url(#ahR)" marker-end="url(#ahR)"/>
<text x="423" y="474.1" font-size="14" font-weight="bold" font-family='"Liberation Serif", serif' fill="#111" text-anchor="middle" textLength="105.1" lengthAdjust="spacingAndGlyphs" >Conducting Band</text>
<text x="425.1" y="491.2" font-size="14" font-weight="bold" font-family='"Liberation Serif", serif' fill="#111" text-anchor="middle" textLength="128.1" lengthAdjust="spacingAndGlyphs" >Ce 4f (filled f orbital)</text>
<text x="546.6" y="574.8" font-size="14" font-weight="bold" font-family='"Liberation Serif", serif' fill="#444" textLength="26.6" lengthAdjust="spacingAndGlyphs" >3 eV</text>
<text x="630.3" y="642.2" font-size="11" font-weight="bold" font-family='"Liberation Serif", serif' fill="#111" text-anchor="middle" textLength="98.6" lengthAdjust="spacingAndGlyphs" >New energy level due</text>
<text x="629.9" y="654.8" font-size="11" font-weight="bold" font-family='"Liberation Serif", serif' fill="#111" text-anchor="middle" textLength="85.8" lengthAdjust="spacingAndGlyphs" >to Oxygen Vacancy</text>
<text x="423.4" y="696.5" font-family='"Liberation Serif", serif' font-weight="bold" fill="#111" text-anchor="middle" textLength="84.4" lengthAdjust="spacingAndGlyphs"><tspan font-size="15.2">Valance</tspan><tspan font-size="14.2"> band</tspan></text>
<text x="423.1" y="713.4" font-size="14" font-weight="bold" font-family='"Liberation Serif", serif' fill="#111" text-anchor="middle" textLength="28.6" lengthAdjust="spacingAndGlyphs" >O 2p</text>
</svg>
</body></html>
